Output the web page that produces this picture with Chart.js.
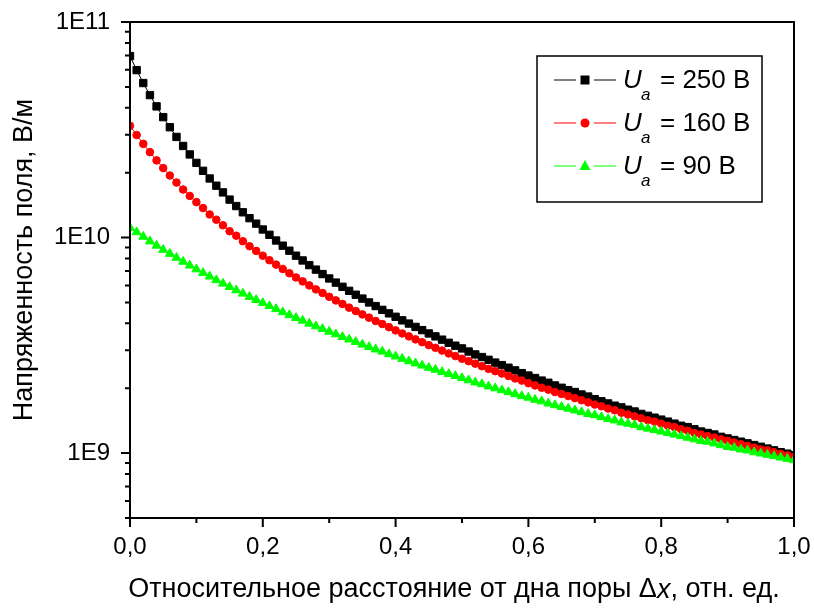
<!DOCTYPE html>
<html>
<head>
<meta charset="utf-8">
<script src="https://cdn.jsdelivr.net/npm/chart.js@4"></script>
<style>
    body { margin: 0; background: #fff; }
    canvas { display: block; }
</style>
</head>
<body>
<canvas id="chart" width="814" height="608"></canvas>
<script>
// relative distance from pore bottom
const xValues = [0,0.01,0.02,0.03,0.04,0.05,0.06,0.07,0.08,0.09,
    0.1,0.11,0.12,0.13,0.14,0.15,0.16,0.17,0.18,0.19,
    0.2,0.21,0.22,0.23,0.24,0.25,0.26,0.27,0.28,0.29,
    0.3,0.31,0.32,0.33,0.34,0.35,0.36,0.37,0.38,0.39,
    0.4,0.41,0.42,0.43,0.44,0.45,0.46,0.47,0.48,0.49,
    0.5,0.51,0.52,0.53,0.54,0.55,0.56,0.57,0.58,0.59,
    0.6,0.61,0.62,0.63,0.64,0.65,0.66,0.67,0.68,0.69,
    0.7,0.71,0.72,0.73,0.74,0.75,0.76,0.77,0.78,0.79,
    0.8,0.81,0.82,0.83,0.84,0.85,0.86,0.87,0.88,0.89,
    0.9,0.91,0.92,0.93,0.94,0.95,0.96,0.97,0.98,0.99,1.0];

// field strength, V/m
const field250 = [6.95e10,5.98e10,5.21e10,4.58e10,4.06e10,3.62e10,3.25e10,2.93e10,2.66e10,2.43e10,
    2.22e10,2.04e10,1.88e10,1.74e10,1.62e10,1.50e10,1.40e10,1.31e10,1.23e10,1.16e10,
    1.09e10,1.03e10,9.69e9,9.17e9,8.69e9,8.24e9,7.83e9,7.45e9,7.10e9,6.77e9,
    6.46e9,6.18e9,5.91e9,5.66e9,5.43e9,5.21e9,5.00e9,4.81e9,4.62e9,4.45e9,
    4.29e9,4.13e9,3.99e9,3.85e9,3.72e9,3.59e9,3.48e9,3.36e9,3.25e9,3.15e9,
    3.06e9,2.96e9,2.87e9,2.79e9,2.71e9,2.63e9,2.56e9,2.49e9,2.42e9,2.35e9,
    2.29e9,2.23e9,2.17e9,2.12e9,2.06e9,2.01e9,1.96e9,1.92e9,1.87e9,1.83e9,
    1.78e9,1.74e9,1.70e9,1.66e9,1.63e9,1.59e9,1.56e9,1.52e9,1.49e9,1.46e9,
    1.43e9,1.40e9,1.37e9,1.34e9,1.32e9,1.29e9,1.26e9,1.24e9,1.22e9,1.19e9,
    1.17e9,1.15e9,1.13e9,1.11e9,1.09e9,1.07e9,1.05e9,1.03e9,1.01e9,9.94e8,9.77e8];

const field160 = [3.30e10,2.99e10,2.72e10,2.49e10,2.28e10,2.10e10,1.94e10,1.80e10,1.67e10,1.56e10,
    1.46e10,1.37e10,1.28e10,1.21e10,1.14e10,1.07e10,1.02e10,9.62e9,9.12e9,8.67e9,
    8.24e9,7.85e9,7.49e9,7.15e9,6.83e9,6.53e9,6.26e9,6.00e9,5.75e9,5.53e9,
    5.31e9,5.11e9,4.92e9,4.73e9,4.56e9,4.40e9,4.25e9,4.10e9,3.97e9,3.84e9,
    3.71e9,3.59e9,3.48e9,3.37e9,3.27e9,3.17e9,3.08e9,2.99e9,2.90e9,2.82e9,
    2.74e9,2.67e9,2.60e9,2.53e9,2.46e9,2.40e9,2.34e9,2.28e9,2.22e9,2.17e9,
    2.11e9,2.06e9,2.01e9,1.97e9,1.92e9,1.88e9,1.84e9,1.80e9,1.76e9,1.72e9,
    1.68e9,1.65e9,1.61e9,1.58e9,1.54e9,1.51e9,1.48e9,1.45e9,1.42e9,1.40e9,
    1.37e9,1.34e9,1.32e9,1.29e9,1.27e9,1.24e9,1.22e9,1.20e9,1.18e9,1.16e9,
    1.14e9,1.12e9,1.10e9,1.08e9,1.06e9,1.04e9,1.03e9,1.01e9,9.92e8,9.76e8,9.60e8];

const field90 = [1.11e10,1.06e10,1.01e10,9.61e9,9.18e9,8.78e9,8.41e9,8.06e9,7.73e9,7.42e9,
    7.13e9,6.86e9,6.60e9,6.35e9,6.12e9,5.90e9,5.70e9,5.50e9,5.31e9,5.14e9,
    4.97e9,4.81e9,4.66e9,4.51e9,4.37e9,4.24e9,4.12e9,3.99e9,3.88e9,3.77e9,
    3.66e9,3.56e9,3.46e9,3.37e9,3.28e9,3.19e9,3.11e9,3.03e9,2.96e9,2.88e9,
    2.81e9,2.74e9,2.67e9,2.61e9,2.55e9,2.49e9,2.44e9,2.38e9,2.33e9,2.28e9,
    2.23e9,2.18e9,2.13e9,2.09e9,2.04e9,2.00e9,1.96e9,1.92e9,1.88e9,1.84e9,
    1.81e9,1.77e9,1.74e9,1.70e9,1.67e9,1.64e9,1.61e9,1.58e9,1.55e9,1.52e9,
    1.50e9,1.47e9,1.44e9,1.42e9,1.39e9,1.37e9,1.35e9,1.32e9,1.30e9,1.28e9,
    1.26e9,1.24e9,1.22e9,1.20e9,1.18e9,1.16e9,1.14e9,1.13e9,1.11e9,1.09e9,
    1.07e9,1.06e9,1.04e9,1.03e9,1.01e9,9.97e8,9.83e8,9.69e8,9.55e8,9.41e8,9.28e8];

const voltages = [250, 160, 90];

const xMajorTicks = [0, 0.2, 0.4, 0.6, 0.8, 1.0];
const xMinorTicks = [0.1, 0.3, 0.5, 0.7, 0.9];
const yMajorTicks = [1e9, 1e10, 1e11];
const yMinorTicks = [5e8, 6e8, 7e8, 8e8, 9e8,
    2e9, 3e9, 4e9, 5e9, 6e9, 7e9, 8e9, 9e9,
    2e10, 3e10, 4e10, 5e10, 6e10, 7e10, 8e10, 9e10];

// x title in three parts so that x can be italic
const xTitleParts = ['Относительное расстояние от дна поры Δ', 'x', ', отн. ед.'];
const yTitle = 'Напряженность поля, В/м';

const FONT = '"Liberation Sans", Arial, sans-serif';
Chart.defaults.font.family = FONT;
Chart.defaults.color = '#000';

function toPoints(values) {
    return values.map((v, i) => ({ x: xValues[i], y: v }));
}

// box round the plot and the outward tick marks (long major, short minor)
const frameAndTicks = {
    id: 'frameAndTicks',
    afterDatasetsDraw(chart) {
        const { ctx, chartArea: a, scales: { x, y } } = chart;
        ctx.save();
        ctx.strokeStyle = '#000';
        ctx.lineWidth = 2;
        ctx.strokeRect(a.left, a.top, a.right - a.left, a.bottom - a.top);
        ctx.beginPath();
        xMajorTicks.forEach(v => {
            const px = x.getPixelForValue(v);
            ctx.moveTo(px, a.bottom); ctx.lineTo(px, a.bottom + 9);
        });
        xMinorTicks.forEach(v => {
            const px = x.getPixelForValue(v);
            ctx.moveTo(px, a.bottom); ctx.lineTo(px, a.bottom + 5);
        });
        yMajorTicks.forEach(v => {
            const py = y.getPixelForValue(v);
            ctx.moveTo(a.left, py); ctx.lineTo(a.left - 9, py);
        });
        yMinorTicks.forEach(v => {
            const py = y.getPixelForValue(v);
            ctx.moveTo(a.left, py); ctx.lineTo(a.left - 5, py);
        });
        ctx.stroke();

        // axis titles
        ctx.fillStyle = '#000';
        ctx.textBaseline = 'middle';
        const fonts = ['27px ' + FONT, 'italic 27px ' + FONT, '27px ' + FONT];
        let total = 0;
        xTitleParts.forEach((t, i) => { ctx.font = fonts[i]; total += ctx.measureText(t).width; });
        let tx = 454 - total / 2;
        xTitleParts.forEach((t, i) => {
            ctx.font = fonts[i];
            ctx.textAlign = 'left';
            ctx.fillText(t, tx, 590);
            tx += ctx.measureText(t).width;
        });

        ctx.translate(25, 260);
        ctx.rotate(-Math.PI / 2);
        ctx.font = '27px ' + FONT;
        ctx.textAlign = 'center';
        ctx.fillText(yTitle, 0, 0);
        ctx.restore();
    }
};

// legend with italic U and subscript a
const customLegend = {
    id: 'customLegend',
    afterDraw(chart) {
        const ctx = chart.ctx;
        ctx.save();
        ctx.fillStyle = '#fff';
        ctx.fillRect(537, 56, 225, 146);
        ctx.strokeStyle = '#000';
        ctx.lineWidth = 1.5;
        ctx.strokeRect(537, 56, 225, 146);

        chart.data.datasets.forEach((ds, i) => {
            const cy = 80 + i * 43;
            ctx.strokeStyle = ds.borderColor;
            ctx.lineWidth = 1;
            ctx.beginPath();
            ctx.moveTo(554, cy); ctx.lineTo(576, cy);
            ctx.moveTo(594, cy); ctx.lineTo(616, cy);
            ctx.stroke();

            ctx.fillStyle = ds.pointBackgroundColor;
            ctx.beginPath();
            if (ds.pointStyle === 'rect') {
                ctx.rect(580.5, cy - 4.5, 9, 9);
            } else if (ds.pointStyle === 'circle') {
                ctx.arc(585, cy, 4.5, 0, Math.PI * 2);
            } else {
                ctx.moveTo(585, cy - 6);
                ctx.lineTo(590.5, cy + 4);
                ctx.lineTo(579.5, cy + 4);
                ctx.closePath();
            }
            ctx.fill();

            ctx.fillStyle = '#000';
            ctx.textBaseline = 'alphabetic';
            ctx.font = 'italic 26px ' + FONT;
            ctx.fillText('U', 623, cy + 8);
            ctx.font = 'italic 17px ' + FONT;
            ctx.fillText('a', 641, cy + 20);
            ctx.font = '26px ' + FONT;
            ctx.fillText('= ' + voltages[i] + ' В', 660, cy + 8);
        });
        ctx.restore();
    }
};

new Chart(document.getElementById('chart'), {
    type: 'line',
    data: {
        datasets: [
            {
                label: 'Ua = 250 В',
                data: toPoints(field250),
                borderColor: '#000000',
                backgroundColor: '#000000',
                pointBackgroundColor: '#000000',
                pointBorderColor: '#000000',
                pointStyle: 'rect',
                pointRadius: 5.2,
                pointBorderWidth: 1,
                borderWidth: 1,
                order: 3
            },
            {
                label: 'Ua = 160 В',
                data: toPoints(field160),
                borderColor: '#ff0000',
                backgroundColor: '#ff0000',
                pointBackgroundColor: '#ff0000',
                pointBorderColor: '#ff0000',
                pointStyle: 'circle',
                pointRadius: 3.8,
                pointBorderWidth: 1,
                borderWidth: 1,
                order: 2
            },
            {
                label: 'Ua = 90 В',
                data: toPoints(field90),
                borderColor: '#00ff00',
                backgroundColor: '#00ff00',
                pointBackgroundColor: '#00ff00',
                pointBorderColor: '#00ff00',
                pointStyle: 'triangle',
                pointRadius: 5.2,
                pointBorderWidth: 1,
                borderWidth: 1,
                order: 1
            }
        ]
    },
    options: {
        responsive: false,
        animation: false,
        layout: { padding: { left: 0, right: 20, top: 22, bottom: 0 } },
        plugins: {
            legend: { display: false },
            tooltip: { enabled: false }
        },
        scales: {
            x: {
                type: 'linear',
                min: 0,
                max: 1,
                grid: { display: false, drawTicks: false },
                border: { display: false },
                ticks: {
                    stepSize: 0.2,
                    padding: 15,
                    maxRotation: 0,
                    font: { size: 24 },
                    callback: v => v.toFixed(1).replace('.', ',')
                },
                afterFit: scale => {
                    scale.height = 90;
                    scale.paddingLeft = 0;
                    scale.paddingRight = 0;
                }
            },
            y: {
                type: 'logarithmic',
                min: 5e8,
                max: 1e11,
                grid: { display: false, drawTicks: false },
                border: { display: false },
                afterBuildTicks: scale => {
                    scale.ticks = yMajorTicks.map(v => ({ value: v }));
                },
                ticks: {
                    padding: 20,
                    font: { size: 24 },
                    callback: v => '1E' + Math.round(Math.log10(v))
                },
                afterFit: scale => {
                    scale.width = 130;
                    scale.paddingTop = 0;
                    scale.paddingBottom = 0;
                }
            }
        }
    },
    plugins: [frameAndTicks, customLegend]
});
</script>
</body>
</html>
